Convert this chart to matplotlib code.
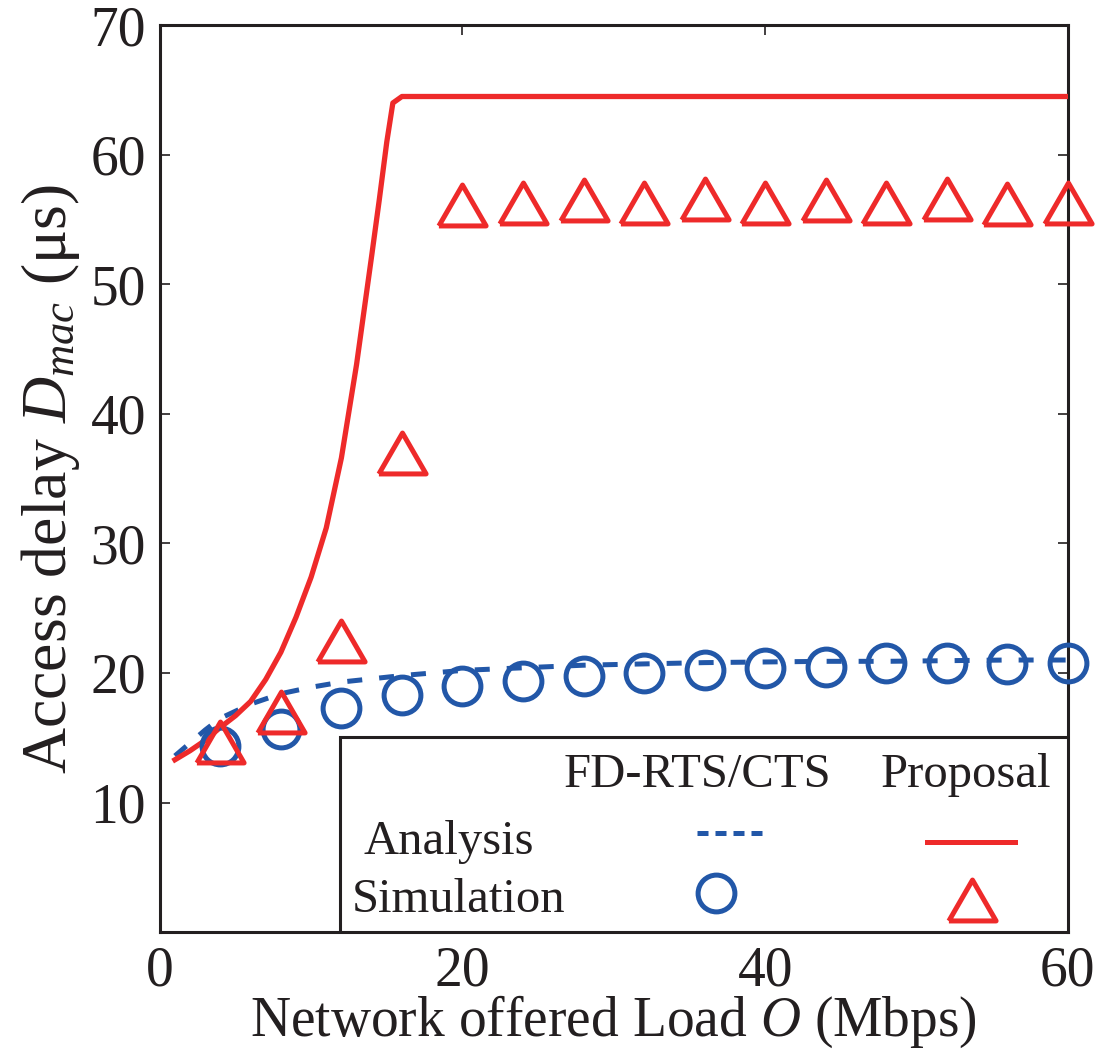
import matplotlib
matplotlib.use("Agg")
import matplotlib.pyplot as plt
from matplotlib.patches import Rectangle
from matplotlib.lines import Line2D

plt.rcParams['font.family'] = ['Liberation Serif', 'DejaVu Serif']
plt.rcParams['mathtext.fontset'] = 'custom'
plt.rcParams['mathtext.rm'] = 'Liberation Serif'
plt.rcParams['mathtext.it'] = 'Liberation Serif:italic'

BLUE = '#2257a8'
RED = '#ee2a2a'
DARK = '#231f20'

# analysis curves
fd_x = [1, 2, 3, 4, 6, 8, 10, 12, 16, 20, 24, 28, 32, 36, 40, 44, 48, 52, 56, 60]
fd_y = [13.6, 14.6, 15.6, 16.5, 17.6, 18.4, 18.9, 19.3, 19.8, 20.2, 20.4, 20.6,
        20.7, 20.8, 20.85, 20.9, 20.9, 20.95, 21.0, 21.0]
prop_x = [1, 2, 3, 4, 5, 6, 7, 8, 9, 10, 11, 12, 13, 14, 14.5, 15, 15.4, 16,
          20, 30, 40, 50, 60]
prop_y = [13.3, 14.0, 14.8, 15.8, 16.7, 17.8, 19.5, 21.6, 24.3, 27.4, 31.2, 36.6,
          43.8, 52.2, 56.5, 61.0, 64.0, 64.5, 64.5, 64.5, 64.5, 64.5, 64.5]

# simulation points
sim_x = [4, 8, 12, 16, 20, 24, 28, 32, 36, 40, 44, 48, 52, 56, 60]
fd_sim = [14.4, 15.7, 17.3, 18.3, 19.0, 19.4, 19.75, 20.0, 20.2, 20.4, 20.5,
          20.8, 20.75, 20.7, 20.8]
prop_sim = [14.7, 17.0, 22.5, 37.0, 56.1, 56.3, 56.5, 56.25, 56.6, 56.3, 56.5,
            56.3, 56.6, 56.2, 56.3]

xticks = [0, 20, 40, 60]
yticks = [10, 20, 30, 40, 50, 60, 70]

tri = [(-1, -0.866), (1, -0.866), (0, 0.866), (-1, -0.866)]

fig = plt.figure(figsize=(11.02, 10.52), dpi=100)
ax = fig.add_axes([0.145, 0.114, 0.824, 0.862])

dash = (0, (3, 3.4))
ax.plot(fd_x, fd_y, color=BLUE, lw=3.6, linestyle=dash, zorder=2)
ax.plot(prop_x, prop_y, color=RED, lw=3.8, zorder=3)
ax.plot(sim_x, fd_sim, linestyle='none', marker='o', ms=26.5, mfc='none',
        mec=BLUE, mew=3.6, zorder=4, clip_on=False)
ax.plot(sim_x, prop_sim, linestyle='none', marker=tri, ms=34, mfc='none',
        mec=RED, mew=3.6, zorder=5, clip_on=False)

ax.set_xlim(0, 60)
ax.set_ylim(0, 70)
ax.set_xticks(xticks)
ax.set_yticks(yticks)
ax.tick_params(direction='in', length=7, width=1.2, top=True, right=True,
               labelsize=40, colors=DARK, pad=10)
for s in ax.spines.values():
    s.set_linewidth(2.2)
    s.set_color(DARK)

ax.set_xlabel('Network offered Load $O$ (Mbps)', fontsize=40, color=DARK, labelpad=-3)
ax.set_ylabel('Access delay $D_{mac}$ (\u03bcs)', fontsize=46, color=DARK, labelpad=6)

# table-style legend
ax.add_patch(Rectangle((0.198, 0), 0.802, 0.215, transform=ax.transAxes,
                       facecolor='white', edgecolor=DARK, lw=2.2, zorder=6))
tk = dict(transform=ax.transAxes, fontsize=35, color=DARK, zorder=7, va='center')
ax.text(0.592, 0.173, 'FD-RTS/CTS', ha='center', **tk)
ax.text(0.888, 0.173, 'Proposal', ha='center', **tk)
ax.text(0.224, 0.099, 'Analysis', ha='left', **tk)
ax.text(0.211, 0.035, 'Simulation', ha='left', **tk)
ax.add_line(Line2D([0.592, 0.663], [0.109, 0.109], transform=ax.transAxes,
                   color=BLUE, lw=3.6, linestyle=(0, (2.2, 1.4)), zorder=7))
ax.add_line(Line2D([0.845, 0.942], [0.099, 0.099], transform=ax.transAxes,
                   color=RED, lw=3.6, zorder=7))
ax.add_line(Line2D([0.613], [0.043], transform=ax.transAxes, marker='o', ms=26.5,
                   mfc='none', mec=BLUE, mew=3.6, zorder=7))
ax.add_line(Line2D([0.894], [0.035], transform=ax.transAxes, marker=tri, ms=34,
                   mfc='none', mec=RED, mew=3.6, zorder=7))

fig.savefig('out.png', dpi=100)
